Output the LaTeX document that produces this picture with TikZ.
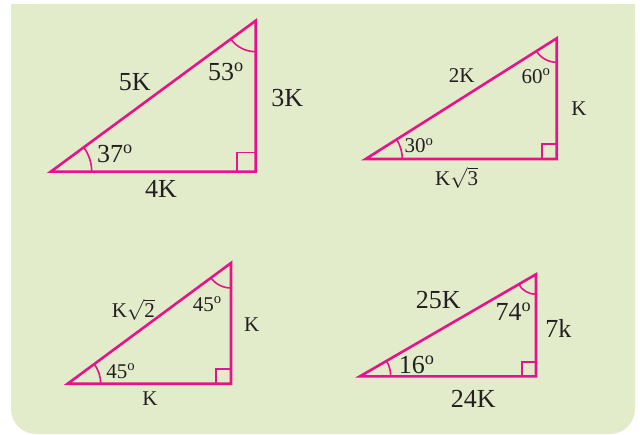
\documentclass[tikz,border=0pt]{standalone}
\usepackage{fontspec}
\setmainfont{Liberation Serif}
\usepackage{tikz}
\usetikzlibrary{angles,calc}
\definecolor{panelgreen}{RGB}{226,236,203}
\definecolor{trimag}{RGB}{230,20,138}
\definecolor{inkgray}{RGB}{35,31,32}
\newcommand{\dg}{\textsuperscript{o}}
\newcommand{\rootof}[1]{$\sqrt{\mbox{#1}}$}
\begin{document}
\begin{tikzpicture}[
  x=1pt,y=1pt,
  font=\fontsize{26}{30}\selectfont,
  side/.style={trimag,line width=2.6pt,line join=miter},
  arcmark/.style={draw=trimag,line width=1.6pt},
  sqmark/.style={draw=trimag,line width=1.6pt},
  lbl/.style={text=inkgray,inner sep=0pt},
  smalllbl/.style={lbl,font=\fontsize{21}{24}\selectfont}
]
\useasboundingbox (0,0) rectangle (640,434);
\fill[panelgreen,rounded corners=25pt] (11,0) rectangle (635,430);
\fill[panelgreen] (11,200) rectangle (635,430);

% 3-4-5 triangle
\coordinate (a1) at (50.7,262.3);
\coordinate (c1) at (255.7,262.3);
\coordinate (b1) at (255.7,413.3);
\draw[side] (a1) -- (c1) -- (b1) -- cycle;
\pic[arcmark,angle radius=41pt] {angle=c1--a1--b1};
\pic[arcmark,angle radius=31pt] {angle=a1--b1--c1};
\pic[sqmark,angle radius=19pt] {right angle=a1--c1--b1};
\node[lbl] (hyp1) at (134.7,351.7) {5K};
\node[lbl] (top1) at (226,362.3) {53\dg};
\node[lbl] (opp1) at (287.3,336.3) {3K};
\node[lbl] (bot1) at (115,280) {37\dg};
\node[lbl] (base1) at (161,244.7) {4K};

% 30-60-90 triangle
\coordinate (a2) at (365.7,275);
\coordinate (c2) at (556.7,275);
\coordinate (b2) at (556.7,395.7);
\draw[side] (a2) -- (c2) -- (b2) -- cycle;
\pic[arcmark,angle radius=36.6pt] {angle=c2--a2--b2};
\pic[arcmark,angle radius=24pt] {angle=a2--b2--c2};
\pic[sqmark,angle radius=15pt] {right angle=a2--c2--b2};
\node[smalllbl] (hyp2) at (461.7,358) {2K};
\node[smalllbl] (top2) at (536,358) {60\dg};
\node[smalllbl] (opp2) at (579,325.7) {K};
\node[smalllbl] (bot2) at (419,288.3) {30\dg};
\node[smalllbl] (base2) at (456.7,256.3) {K\rootof{3}};

% 45-45-90 triangle
\coordinate (a3) at (67.7,50.3);
\coordinate (c3) at (231,50.3);
\coordinate (b3) at (231,171);
\draw[side] (a3) -- (c3) -- (b3) -- cycle;
\pic[arcmark,angle radius=33pt] {angle=c3--a3--b3};
\pic[arcmark,angle radius=25pt] {angle=a3--b3--c3};
\pic[sqmark,angle radius=15pt] {right angle=a3--c3--b3};
\node[smalllbl] (hyp3) at (133.3,124.3) {K\rootof{2}};
\node[smalllbl] (top3) at (207.3,129.7) {45\dg};
\node[smalllbl] (opp3) at (251.7,109.7) {K};
\node[smalllbl] (bot3) at (120.7,63) {45\dg};
\node[smalllbl] (base3) at (150,35.3) {K};

% 7-24-25 triangle
\coordinate (a4) at (360,57.7);
\coordinate (c4) at (536,57.7);
\coordinate (b4) at (536,159.7);
\draw[side] (a4) -- (c4) -- (b4) -- cycle;
\pic[arcmark,angle radius=30.7pt] {angle=c4--a4--b4};
\pic[arcmark,angle radius=20pt] {angle=a4--b4--c4};
\pic[sqmark,angle radius=14pt] {right angle=a4--c4--b4};
\node[lbl] (hyp4) at (438.3,133.7) {25K};
\node[lbl] (top4) at (513.3,122.7) {74\dg};
\node[lbl] (opp4) at (558.3,105.3) {7k};
\node[lbl] (bot4) at (416.7,68.7) {16\dg};
\node[lbl] (base4) at (473.3,35.3) {24K};
\end{tikzpicture}
\end{document}
